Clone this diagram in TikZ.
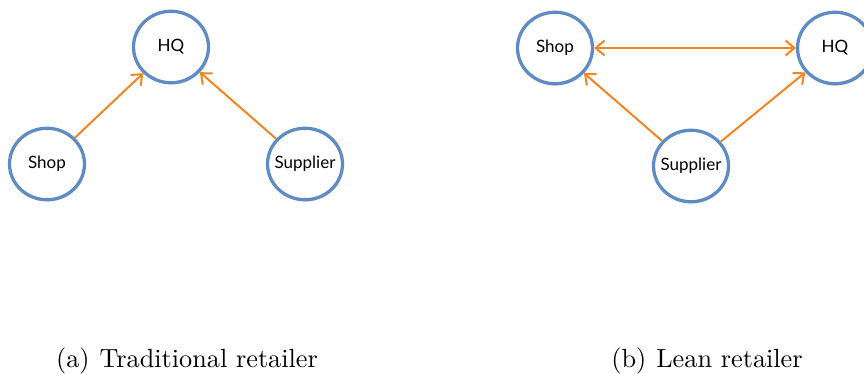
\documentclass[tikz,border=0pt]{standalone}
\usepackage{fontspec}
\newfontfamily\sitefont{Lato}
\usetikzlibrary{arrows.meta,shapes.geometric,shadows}
\definecolor{ringblue}{RGB}{94,139,196}
\definecolor{linkorange}{RGB}{243,132,31}
\tikzset{
>={Straight Barb[length=3.5pt,width=6pt]},
  site/.style={
    ellipse,
    draw=ringblue, line width=1.3pt,
    fill=white,
    minimum width=30pt,
    minimum height=28.6pt,
    inner ysep=0pt, inner xsep=-5pt,
    font=\sitefont\fontsize{6.8}{8}\selectfont,
    drop shadow={opacity=0.2, shadow xshift=0.4pt, shadow yshift=-0.8pt}},
  link/.style={draw=linkorange, line width=0.8pt, ->},
  twolink/.style={draw=linkorange, line width=0.8pt, <->},
  subcap/.style={anchor=base, font=\fontsize{10.5}{12}\selectfont},
}

\begin{document}
\begin{tikzpicture}
  [x=0.4pt, y=-0.4pt]
\useasboundingbox (0,0) rectangle (864,373);
% (a) traditional
\node[site] (hqA) at (171,47) {HQ};
\node[site] (shopA) at (47,164) {Shop};
\node[site] (supplierA) at (305,164) {Supplier};
\draw[link] (shopA) -- (hqA);
\draw[link] (supplierA) -- (hqA);
% (b) lean
\node[site] (shopB) at (555,48) {Shop};
\node[site] (hqB) at (835,48) {HQ};
\node[site] (supplierB) at (691,166) {Supplier};
\draw[twolink] (shopB) -- (hqB);
\draw[link] (supplierB) -- (shopB);
\draw[link] (supplierB) -- (hqB);
% captions
\node[subcap] (capA) at (187,367) {(a)\hspace{4pt}Traditional retailer};
\node[subcap] (capB) at (707,367) {(b)\hspace{4pt}Lean retailer};
\end{tikzpicture}
\end{document}
